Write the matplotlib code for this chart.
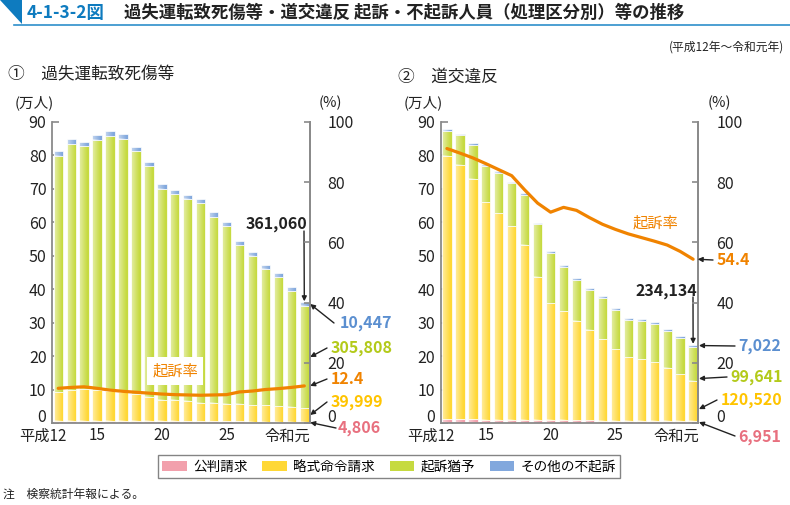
import matplotlib
matplotlib.use("Agg")
import matplotlib.pyplot as plt
import numpy as np
from matplotlib.patches import Polygon, Rectangle

plt.rcParams['font.family'] = ['Noto Sans CJK JP', 'DejaVu Sans']

years = ["平成12", "13", "14", "15", "16", "17", "18", "19", "20", "21",
         "22", "23", "24", "25", "26", "27", "28", "29", "30", "令和元"]
xtick_show = {0: "平成12", 3: "15", 8: "20", 13: "25", 19: "令和元"}

# 過失運転致死傷等 (万人)
a_kohan = [0.70, 0.72, 0.75, 0.74, 0.72, 0.70, 0.68, 0.65, 0.62, 0.60,
           0.58, 0.57, 0.56, 0.55, 0.54, 0.53, 0.52, 0.51, 0.50, 0.48]
a_ryaku = [8.6, 9.2, 9.45, 9.2, 8.9, 8.6, 8.0, 7.25, 6.4, 6.3,
           6.0, 5.55, 5.55, 5.25, 5.15, 4.95, 4.8, 4.7, 4.5, 4.0]
a_yuyo = [70.6, 73.4, 72.4, 74.7, 76.0, 75.5, 72.5, 68.8, 63.0, 61.4,
          60.3, 59.5, 55.5, 53.1, 47.4, 44.5, 40.7, 38.3, 34.5, 30.58]
a_other = [1.3, 1.4, 1.4, 1.5, 1.5, 1.5, 1.4, 1.4, 1.4, 1.4,
           1.3, 1.4, 1.3, 1.3, 1.3, 1.2, 1.2, 1.2, 1.1, 1.04]
a_rate = [11.6, 11.9, 12.1, 11.6, 11.0, 10.6, 10.3, 10.0, 9.7, 9.5,
          9.4, 9.3, 9.4, 9.5, 10.4, 10.7, 11.2, 11.5, 11.9, 12.4]

# 道交違反 (万人)
b_kohan = [1.15, 1.15, 1.15, 1.10, 1.05, 1.00, 0.95, 0.90, 0.90, 0.90,
           0.85, 0.85, 0.80, 0.80, 0.78, 0.76, 0.75, 0.73, 0.72, 0.70]
b_ryaku = [78.5, 76.0, 71.9, 64.8, 61.6, 57.8, 52.4, 42.7, 34.9, 32.5,
           29.8, 26.9, 24.3, 21.4, 18.9, 18.4, 17.6, 15.9, 14.0, 12.05]
b_yuyo = [7.7, 8.8, 10.1, 11.0, 12.0, 12.8, 14.9, 15.8, 15.1, 13.2,
          12.2, 12.0, 12.4, 11.7, 11.2, 11.4, 11.3, 10.8, 10.6, 9.96]
b_other = [0.5, 0.5, 0.5, 0.5, 0.5, 0.5, 0.5, 0.5, 0.5, 0.5,
           0.5, 0.5, 0.5, 0.5, 0.5, 0.5, 0.6, 0.6, 0.6, 0.70]
b_rate = [91.1, 89.6, 88.0, 86.1, 84.1, 82.1, 77.4, 73.0, 70.0, 71.6,
          70.6, 68.2, 66.0, 64.3, 62.8, 61.6, 60.4, 59.1, 57.0, 54.4]

series_names = ["公判請求", "略式命令請求", "起訴猶予", "その他の不起訴"]
colors = ["#F2A0AC", "#FFD836", "#C6DA40", "#82A8DD"]
text_colors = ["#E8707F", "#FFC400", "#B3CA1A", "#5B8FD0"]
orange = "#F08300"
gray = "#8A8A8A"

W, H = 790, 505
fig = plt.figure(figsize=(W / 100, H / 100), dpi=100)


def fx(px):
    return px / W


def fy(py):
    return 1 - py / H


# Title bar
fig.patches.append(Polygon([[fx(0), fy(0)], [fx(22), fy(0)], [fx(22), fy(24)]],
                           closed=True, transform=fig.transFigure,
                           facecolor="#0E7BBF", edgecolor="none"))
fig.lines.append(plt.Line2D([fx(14), fx(790)], [fy(25), fy(25)],
                            transform=fig.transFigure, color="#2E8FCB", lw=1.2))
fig.text(fx(27), fy(13), "4-1-3-2図", fontsize=12.5, fontweight="bold",
         color="#0E7BBF", va="center", ha="left")
fig.text(fx(124), fy(13), "過失運転致死傷等・道交違反 起訴・不起訴人員（処理区分別）等の推移",
         fontsize=12.5, fontweight="bold", color="#222222", va="center", ha="left")
fig.text(fx(784), fy(47), "(平成12年〜令和元年)", fontsize=8.5, color="#222222",
         va="center", ha="right")

# horizontal white gradient used to lighten the left side of every bar
grad = np.zeros((1, 64, 4))
grad[..., :3] = 1.0
grad[0, :, 3] = np.clip(np.linspace(0.55, -0.1, 64), 0, 1)


def panel(left_px, right_px, kohan, ryaku, yuyo, other, rate, title, title_pos):
    ax = fig.add_axes([fx(left_px), fy(423.3), fx(right_px - left_px),
                       (423.3 - 121.7) / H])
    n = len(kohan)
    x = np.arange(n)
    bottom = np.zeros(n)
    for vals, c in zip([kohan, ryaku, yuyo, other], colors):
        bars = ax.bar(x, vals, bottom=bottom, width=0.72, color=c,
                      edgecolor="white", linewidth=0.5, zorder=2)
        for p in bars.patches:
            x0, y0 = p.get_x(), p.get_y()
            ax.imshow(grad, extent=(x0, x0 + p.get_width(), y0, y0 + p.get_height()),
                      aspect="auto", zorder=2.5, interpolation="bilinear")
        bottom = bottom + np.array(vals)
    ax.set_ylim(0, 90)
    ax.set_xlim(-0.48, n - 0.6)
    ax.set_yticks(range(0, 91, 10), [""] + [str(v) for v in range(10, 91, 10)])
    ax.tick_params(axis="y", direction="in", length=5, width=1.2, color=gray,
                   labelsize=11.5, pad=4, labelcolor="#222222")
    ax.annotate("0", xy=(0, 0), xycoords=("axes fraction", "data"),
                xytext=(-4, 4), textcoords="offset points", ha="right",
                va="center", fontsize=11.5, color="#222222", annotation_clip=False)
    ax.set_xticks([])
    ax.spines["top"].set_visible(False)
    for s in ["left", "bottom", "right"]:
        ax.spines[s].set_color(gray)
        ax.spines[s].set_linewidth(1.3)
    ax2 = ax.twinx()
    ax2.set_ylim(0, 100)
    ax2.set_yticks(range(0, 101, 20), [""] + [str(v) for v in range(20, 101, 20)])
    ax2.tick_params(axis="y", direction="in", length=4, width=1.2, color=gray,
                    labelsize=11.5, pad=13, labelcolor="#222222")
    ax2.annotate("0", xy=(1, 0), xycoords=("axes fraction", "data"),
                 xytext=(13, 4), textcoords="offset points", ha="left",
                 va="center", fontsize=11.5, color="#222222", annotation_clip=False)
    for s in ["top", "left", "bottom"]:
        ax2.spines[s].set_visible(False)
    ax2.spines["right"].set_color(gray)
    ax2.spines["right"].set_linewidth(1.3)
    ax2.plot(x, rate, color=orange, lw=2.3, zorder=5, solid_capstyle="round")
    # x labels
    for i, lab in xtick_show.items():
        if i == 0:
            xx, ha = i + 0.62, "right"
        elif i == n - 1:
            xx, ha = i + 0.45, "right"
        else:
            xx, ha = i, "center"
        ax.annotate(lab, xy=(xx, 0), xycoords="data", xytext=(0, -9),
                    textcoords="offset points", ha=ha, va="center",
                    fontsize=11, color="#222222", annotation_clip=False)
    fig.text(fx(left_px - 37), fy(103), "(万人)", fontsize=10.5, color="#222222",
             ha="left", va="center")
    fig.text(fx(right_px + 9), fy(103), "(%)", fontsize=10.5, color="#222222",
             ha="left", va="center")
    fig.text(fx(title_pos[0]), fy(title_pos[1]), title, fontsize=12,
             color="#222222", ha="left", va="center")
    return ax, ax2


arrow_kw = dict(arrowstyle="-|>", color="#222222", lw=1.0, mutation_scale=7,
                shrinkA=0, shrinkB=0)


def label_arrow(ax, text, color, xy_data, text_px, tail_px):
    ax.annotate(text, xy=xy_data, xycoords="data",
                xytext=(fx(text_px[0]), fy(text_px[1])), textcoords="figure fraction",
                ha="left", va="center", fontsize=11.5, fontweight="bold",
                color=color, annotation_clip=False)
    ax.annotate("", xy=xy_data, xycoords="data",
                xytext=(fx(tail_px[0]), fy(tail_px[1])),
                textcoords="figure fraction", arrowprops=arrow_kw,
                annotation_clip=False)


# Panel A
axA, axA2 = panel(52, 309.5, a_kohan, a_ryaku, a_yuyo, a_other, a_rate,
                  "①　過失運転致死傷等", (8, 75))
lastA = len(a_kohan) - 1
yA = np.cumsum([a_kohan[lastA], a_ryaku[lastA], a_yuyo[lastA], a_other[lastA]])

axA.annotate("361,060", xy=(fx(307), fy(224)), xycoords="figure fraction",
             ha="right", va="center", fontsize=11.5, fontweight="bold",
             color="#222222")
axA.annotate("", xy=(lastA, yA[3] + 0.3), xycoords="data",
             xytext=(fx(304), fy(231)), textcoords="figure fraction",
             arrowprops=arrow_kw)
label_arrow(axA, "10,447", text_colors[3], (lastA + 0.45, yA[3] - 0.5), (340, 323),
            (334, 323))
label_arrow(axA, "305,808", text_colors[2], (lastA + 0.45, (yA[1] + yA[2]) / 2),
            (331, 348), (327, 348))
label_arrow(axA2, "12.4", orange, (lastA + 0.45, a_rate[lastA]), (331, 379),
            (327, 379))
label_arrow(axA, "39,999", text_colors[1], (lastA + 0.45, (yA[0] + yA[1]) / 2),
            (331, 402), (327, 402))
label_arrow(axA, "4,806", text_colors[0], (lastA + 0.45, yA[0] / 2),
            (338, 428), (336, 428))
fig.text(fx(175), fy(371), "起訴率", fontsize=11, color=orange, ha="center",
         va="center", zorder=10,
         bbox=dict(boxstyle="square,pad=0.35", facecolor="white", edgecolor="none"))

# Panel B
axB, axB2 = panel(440.7, 698.3, b_kohan, b_ryaku, b_yuyo, b_other, b_rate,
                  "②　道交違反", (398, 77))
lastB = len(b_kohan) - 1
yB = np.cumsum([b_kohan[lastB], b_ryaku[lastB], b_yuyo[lastB], b_other[lastB]])
axB.annotate("234,134", xy=(fx(697), fy(291)), xycoords="figure fraction",
             ha="right", va="center", fontsize=11.5, fontweight="bold",
             color="#222222")
axB.annotate("", xy=(lastB, yB[3] + 0.3), xycoords="data",
             xytext=(fx(693), fy(297)), textcoords="figure fraction",
             arrowprops=arrow_kw)
label_arrow(axB2, "54.4", orange, (lastB + 0.35, b_rate[lastB]), (717, 260),
            (713, 260))
label_arrow(axB, "7,022", text_colors[3], (lastB + 0.45, yB[3] - 0.2), (738, 346),
            (735, 346))
label_arrow(axB, "99,641", text_colors[2], (lastB + 0.45, yB[1] + 0.6), (730, 377),
            (727, 377))
label_arrow(axB, "120,520", text_colors[1], (lastB + 0.45, (yB[0] + yB[1]) / 2 - 2.5),
            (721, 400), (717, 400))
label_arrow(axB, "6,951", text_colors[0], (lastB + 0.45, yB[0] / 2),
            (738, 437), (735, 436))
fig.text(fx(655), fy(223), "起訴率", fontsize=11, color=orange, ha="center",
         va="center")

# Legend
handles = [Rectangle((0, 0), 1, 1, facecolor=c, edgecolor="none") for c in colors]
leg = fig.legend(handles, series_names, loc="center",
                 bbox_to_anchor=(fx(389), fy(466.5)), ncol=4, frameon=True,
                 fontsize=9.8, handlelength=1.8, handleheight=0.75,
                 columnspacing=1.1, handletextpad=0.45, borderpad=0.3,
                 fancybox=False)
leg.get_frame().set_edgecolor("#666666")
leg.get_frame().set_linewidth(1.0)

fig.text(fx(3), fy(494), "注　検察統計年報による。", fontsize=8.5, color="#222222",
         ha="left", va="center")

fig.savefig("out.png", dpi=100)
